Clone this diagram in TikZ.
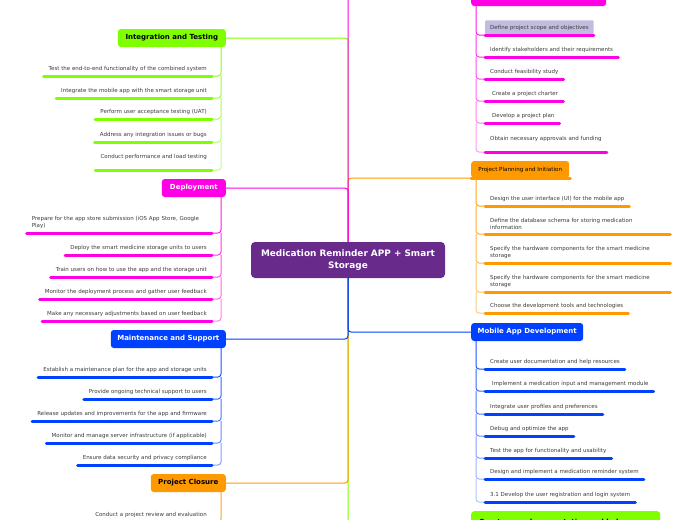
\documentclass[tikz,border=0pt]{standalone}
\usepackage{fontspec}
\setmainfont{DejaVu Sans}
\usetikzlibrary{calc}
\definecolor{cgreen}{RGB}{128,255,0}
\definecolor{cmag}{RGB}{255,0,230}
\definecolor{cblue}{RGB}{0,64,255}
\definecolor{corange}{RGB}{255,153,0}
\definecolor{cpurple}{RGB}{104,43,140}
\definecolor{clav}{RGB}{194,188,222}
\definecolor{ctext}{RGB}{60,60,60}
\tikzset{
  topic/.style={rounded corners=3pt, minimum height=18pt, inner sep=0pt, font=\fontsize{7}{8}\selectfont\bfseries},
  childbase/.style={inner xsep=5pt, inner ysep=4.5pt, font=\fontsize{5.5}{6.5}\selectfont, text=ctext},
  lchild/.style={childbase, anchor=south east, align=right},
  rchild/.style={childbase, anchor=south west, align=left},
  ubar/.style={line width=3pt, line cap=round, draw=#1},
  conn/.style={line width=1pt, rounded corners=3pt, draw=#1},
  plainn/.style={text depth=1.2pt},
  twoline/.style={},
  twrap/.style={text width=175pt},
  twrapl/.style={text width=175pt, align=left},
  hilite/.style={text depth=1.2pt, fill=clav, rounded corners=1pt},
}
\newcommand\lbranch[4]{%
  \foreach \yy/\nopt/\lbl [count=\i, remember=\i as \last (initially 0)] in {#4}{
    \node[lchild,\nopt] (#3\i) at (212,\yy) {\lbl};
    \pgfmathtruncatemacro\pct{100-10*\i}
    \ifnum\last=0
      \coordinate (#3s\i) at ([xshift=-5pt]#1.south east);
    \else
      \coordinate (#3s\i) at ([xshift=-5pt]#1.south east |- #3\last.south east);
    \fi
    \draw[conn=#2!\pct!white] (#3s\i) |- (#3\i.south east);
    \draw[ubar=#2] (#3\i.south west) -- (#3\i.south east);
  }}
\newcommand\rbranch[4]{%
  \foreach \yy/\nopt/\lbl [count=\i, remember=\i as \last (initially 0)] in {#4}{
    \node[rchild,\nopt] (#3\i) at (485,\yy) {\lbl};
    \pgfmathtruncatemacro\pct{100-10*\i}
    \ifnum\last=0
      \coordinate (#3s\i) at ([xshift=5pt]#1.south west);
    \else
      \coordinate (#3s\i) at ([xshift=5pt]#1.south west |- #3\last.south west);
    \fi
    \draw[conn=#2!\pct!white] (#3s\i) |- (#3\i.south west);
    \draw[ubar=#2] (#3\i.south west) -- (#3\i.south east);
  }}
\begin{document}
\begin{tikzpicture}[x=1pt,y=-1pt]
\useasboundingbox (0,0) rectangle (697,520);
\clip (0,0) rectangle (697,520);
\fill[white] (0,0) rectangle (697,520);

% central topic
\node[rounded corners=4pt, fill=cpurple, text=white, minimum width=194pt, minimum height=36pt,
      align=center, inner sep=0pt, font=\fontsize{8.9}{12}\selectfont\bfseries] (c) at (348,260)
      {Medication Reminder APP + Smart\\Storage};

% main topics
\node[topic, fill=cgreen, anchor=east, minimum width=108pt] (it) at (226,38) {Integration and Testing};
\node[topic, fill=cmag, text=white, anchor=east, minimum width=64pt] (dep) at (226,188) {Deployment};
\node[topic, fill=cblue, text=white, anchor=east, minimum width=115pt] (ms) at (226,339) {Maintenance and Support};
\node[topic, fill=corange, anchor=east, minimum width=75pt] (pc) at (226,483) {Project Closure};
\node[topic, fill=cmag, anchor=west, minimum width=135pt, minimum height=20pt] (top) at (471,-4) {};
\node[topic, fill=corange, anchor=west, minimum width=98pt, minimum height=17pt,
      font=\fontsize{5.6}{6.5}\selectfont] (ppi) at (471,169.5) {Project Planning and Initiation};
\node[topic, fill=cblue, text=white, anchor=west, minimum width=112pt] (mad) at (471,332) {Mobile App Development};
\node[topic, fill=cgreen, anchor=north west, minimum height=22pt, text width=173pt, inner xsep=8pt,
      align=left, font=\fontsize{7}{8}\selectfont\bfseries] (cud) at (471,511) {Create user documentation and help};

% connectors from the central topic
\draw[conn=cgreen] (c.south) |- (cud.west);
\draw[conn=cgreen] (c.north) |- (it.east);
\draw[conn=corange] (c.north) |- (ppi.south west);
\draw[conn=cmag] (c.north) |- (dep.east);
\draw[conn=cmag] (c.north) |- (top.west);
\draw[conn=corange] (c.south) |- (pc.east);
\draw[conn=cblue] (c.south) |- (ms.east);
\draw[conn=cblue] (c.south) |- (mad.west);
\draw[ubar=corange] (ppi.south west) -- ([xshift=1pt]ppi.south east);

% left branches
\lbranch{it}{cgreen}{a}{76/plainn/{Test the end-to-end functionality of the combined system},
  98/plainn/{Integrate the mobile app with the smart storage unit},
  119/plainn/{Perform user acceptance testing (UAT)},
  142/plainn/{Address any integration issues or bugs},
  170/twoline/{Conduct performance and load testing\\\mbox{}}}
\lbranch{dep}{cmag}{b}{233/twrapl/{\mbox{Prepare for the app store submission (iOS App Store, Google}\\Play)},
  255/plainn/{Deploy the smart medicine storage units to users},
  277/plainn/{Train users on how to use the app and the storage unit},
  299/plainn/{Monitor the deployment process and gather user feedback},
  321/plainn/{Make any necessary adjustments based on user feedback}}
\lbranch{ms}{cblue}{m}{377/plainn/{Establish a maintenance plan for the app and storage units},
  399/plainn/{Provide ongoing technical support to users},
  421/plainn/{Release updates and improvements for the app and firmware},
  443/plainn/{Monitor and manage server infrastructure (if applicable)},
  465/plainn/{Ensure data security and privacy compliance}}
\lbranch{pc}{corange}{p}{522/plainn/{Conduct a project review and evaluation}}

% right branches
\rbranch{top}{cmag}{t}{35/hilite/{Define project scope and objectives},
  57/plainn/{Identify stakeholders and their requirements},
  79/plainn/{Conduct feasibility study},
  101/plainn/{\hspace{2pt}Create a project charter},
  123/plainn/{\hspace{2pt}Develop a project plan},
  152/twoline/{Obtain necessary approvals and funding\\\mbox{}}}
\rbranch{ppi}{corange}{q}{206/plainn/{Design the user interface (UI) for the mobile app},
  234/twrap/{Define the database schema for storing medication\\information},
  263/twrap/{Specify the hardware components for the smart medicine\\storage},
  292/twrap/{Specify the hardware components for the smart medicine\\storage},
  313/plainn/{Choose the development tools and technologies}}
\rbranch{mad}{cblue}{r}{369/plainn/{Create user documentation and help resources},
  391/plainn/{\hspace{2pt}Implement a medication input and management module},
  414/plainn/{Integrate user profiles and preferences},
  436/plainn/{Debug and optimize the app},
  458/plainn/{Test the app for functionality and usability},
  479/plainn/{Design and implement a medication reminder system},
  502/plainn/{3.1 Develop the user registration and login system}}
\end{tikzpicture}
\end{document}
